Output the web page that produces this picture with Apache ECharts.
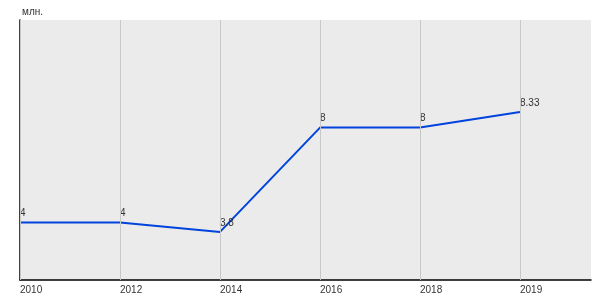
<!DOCTYPE html>
<html>
<head>
<meta charset="utf-8">
<script src="https://cdn.jsdelivr.net/npm/echarts@6/dist/echarts.min.js"></script>
<style>html,body{margin:0;padding:0;background:#fff}#c{width:600px;height:300px}</style>
</head>
<body>
<div id="c"></div>
<script>
var categories = ['2010', '2012', '2014', '2016', '2018', '2019'];
var values = [4, 4, 3.6, 8, 8, 8.66];
var valueLabels = ['4', '4', '3.8', '8', '8', '8.33'];
var unitLabel = 'млн.';

var chart = echarts.init(document.getElementById('c'), null, {renderer: 'canvas'});
var font = 'Liberation Sans, Arial, sans-serif';
chart.setOption({
  animation: false,
  textStyle: {fontFamily: font},
  title: {text: unitLabel, left: 17, top: 2, textStyle: {fontSize: 10, fontWeight: 'normal', color: '#333', fontFamily: font}},
  grid: {left: 20, right: 9, top: 20, bottom: 20, show: true, backgroundColor: '#ebebeb', borderWidth: 0},
  xAxis: {
    type: 'value', min: 0, max: 5.71, interval: 1,
    axisLine: {show: true, lineStyle: {color: '#000', width: 1.5}},
    axisTick: {show: false},
    splitLine: {show: false},
    axisLabel: {
      showMaxLabel: false, align: 'left', margin: 5, fontSize: 10, color: '#333', fontFamily: font,
      formatter: function (v) { return Number.isInteger(v) && categories[v] !== undefined ? categories[v] : ''; }
    }
  },
  yAxis: {
    type: 'value', min: 1.57, max: 12.54,
    axisLine: {show: true, lineStyle: {color: '#000', width: 1.5}},
    axisTick: {show: false}, axisLabel: {show: false}, splitLine: {show: false}
  },
  series: [{
    type: 'line', data: [], z: 1, silent: true,
    markLine: {
      silent: true, symbol: 'none', label: {show: false},
      lineStyle: {color: '#c8c8c8', width: 1, type: 'solid'},
      data: categories.map(function (c, i) { return {xAxis: i}; })
    }
  }, {
    type: 'line', z: 3,
    data: values.map(function (v, i) { return [i, v]; }),
    showSymbol: true, symbol: 'circle', symbolSize: 0,
    lineStyle: {color: '#0044dd', width: 2},
    itemStyle: {color: '#0044dd'},
    label: {
      show: true, position: [0, -4], align: 'left', verticalAlign: 'bottom',
      fontSize: 10, color: '#333', fontFamily: font,
      formatter: function (p) { return valueLabels[p.dataIndex]; }
    }
  }]
});
</script>
</body>
</html>
